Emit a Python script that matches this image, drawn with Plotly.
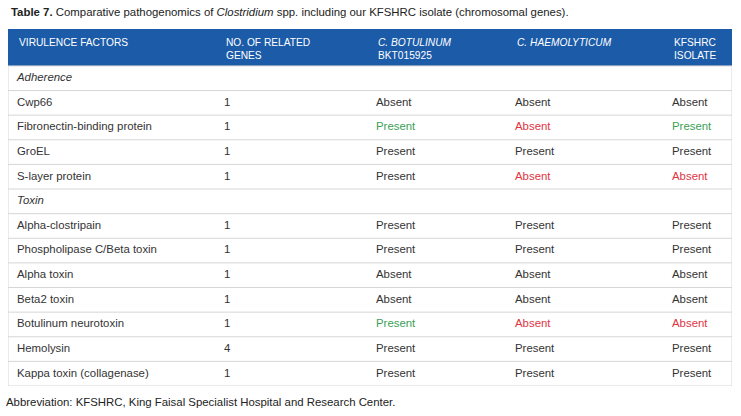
import plotly.graph_objects as go

# Table content, one list per column. Section rows ("Adherence", "Toxin") have
# empty cells in the other columns.
factors = [
    "Adherence", "Cwp66", "Fibronectin-binding protein", "GroEL", "S-layer protein",
    "Toxin", "Alpha-clostripain", "Phospholipase C/Beta toxin", "Alpha toxin",
    "Beta2 toxin", "Botulinum neurotoxin", "Hemolysin", "Kappa toxin (collagenase)",
]
sections = ["Adherence", "Toxin"]
related_genes = ["", "1", "1", "1", "1", "", "1", "1", "1", "1", "1", "4", "1"]
c_botulinum = ["", "Absent", "Present", "Present", "Present", "", "Present", "Present",
               "Absent", "Absent", "Present", "Present", "Present"]
c_haemolyticum = ["", "Absent", "Absent", "Present", "Absent", "", "Present", "Present",
                  "Absent", "Absent", "Absent", "Present", "Present"]
kfshrc = ["", "Absent", "Present", "Present", "Absent", "", "Present", "Present",
          "Absent", "Absent", "Absent", "Present", "Present"]
# highlight codes as printed: g = green, r = red, "" = plain
c_botulinum_hl = ["", "", "g", "", "", "", "", "", "", "", "g", "", ""]
c_haemolyticum_hl = ["", "", "r", "", "r", "", "", "", "", "", "r", "", ""]
kfshrc_hl = ["", "", "g", "", "r", "", "", "", "", "", "r", "", ""]

header_top = ["VIRULENCE FACTORS", "NO. OF RELATED", "<i>C. BOTULINUM</i>",
              "<i>C. HAEMOLYTICUM</i>", "KFSHRC"]
header_bottom = ["", "GENES", "BKT015925", "", "ISOLATE"]

title = ("<b>Table 7.</b> Comparative pathogenomics of <i>Clostridium</i> spp. "
         "including our KFSHRC isolate (chromosomal genes).")
footnote = "Abbreviation: KFSHRC, King Faisal Specialist Hospital and Research Center."

FONT = "Liberation Sans, Arial, Helvetica, sans-serif"
SIZE = 11.4
HEAD_SIZE = 10.2
TEXT = "#333333"
HL = {"": TEXT, "g": "#3a9f55", "r": "#df3444"}
BLUE = "#1b5ba8"
RULE = "#d6d6d6"
WIDTH = 724          # table width in x-axis units (px)
COL_X = [9, 216, 368, 507, 664]
HEADER_ROWS = 1.5    # header height in body-row units

n = len(factors)
row_y = [i + 0.5 for i in range(n)]

fig = go.Figure()

# header band, row rules, outer border
shapes = [dict(type="rect", x0=0, x1=WIDTH, y0=-HEADER_ROWS, y1=0,
               fillcolor=BLUE, line=dict(width=0), layer="below")]
for i in range(1, n):
    shapes.append(dict(type="line", x0=0, x1=WIDTH, y0=i, y1=i,
                       line=dict(color=RULE, width=1)))
shapes.append(dict(type="rect", x0=0, x1=WIDTH, y0=0, y1=n,
                   line=dict(color=RULE, width=1)))

# first column: plain names and italic section labels
plain = [(y, f) for y, f in zip(row_y, factors) if f not in sections]
sect = [(y, f) for y, f in zip(row_y, factors) if f in sections]
fig.add_trace(go.Scatter(
    x=[COL_X[0]] * len(plain), y=[p[0] for p in plain], text=[p[1] for p in plain],
    mode="text", textposition="middle right",
    textfont=dict(family=FONT, size=SIZE, color=TEXT)))
fig.add_trace(go.Scatter(
    x=[COL_X[0]] * len(sect), y=[s[0] for s in sect], text=[s[1] for s in sect],
    mode="text", textposition="middle right",
    textfont=dict(family=FONT, size=SIZE, color=TEXT, style="italic")))

columns = [
    (related_genes, [""] * n),
    (c_botulinum, c_botulinum_hl),
    (c_haemolyticum, c_haemolyticum_hl),
    (kfshrc, kfshrc_hl),
]
for x, (values, hl) in zip(COL_X[1:], columns):
    fig.add_trace(go.Scatter(
        x=[x] * n, y=row_y, text=values, mode="text", textposition="middle right",
        textfont=dict(family=FONT, size=SIZE, color=[HL[h] for h in hl])))

annotations = []
for x, top, bottom in zip(COL_X, header_top, header_bottom):
    annotations.append(dict(x=x, y=-0.94, text=top, xanchor="left", yanchor="middle",
                            showarrow=False,
                            font=dict(family=FONT, size=HEAD_SIZE, color="white")))
    if bottom:
        annotations.append(dict(x=x, y=-0.44, text=bottom, xanchor="left", yanchor="middle",
                                showarrow=False,
                                font=dict(family=FONT, size=HEAD_SIZE, color="white")))
# title and footnote sit outside the axis ranges, so place them in paper coords
annotations.append(dict(xref="paper", yref="paper", x=0.0014, y=1.0476, text=title,
                        xanchor="left", yanchor="middle", showarrow=False,
                        font=dict(family=FONT, size=SIZE, color="#222222")))
annotations.append(dict(xref="paper", yref="paper", x=-0.0055, y=-0.0448, text=footnote,
                        xanchor="left", yanchor="middle", showarrow=False,
                        font=dict(family=FONT, size=SIZE, color="#222222")))

fig.update_layout(
    width=741, height=416,
    margin=dict(l=8, r=9, t=29, b=30),
    paper_bgcolor="white", plot_bgcolor="white",
    showlegend=False, hovermode=False,
    shapes=shapes, annotations=annotations,
    xaxis=dict(range=[0, WIDTH], visible=False, fixedrange=True),
    yaxis=dict(range=[n, -HEADER_ROWS], visible=False, fixedrange=True),
)

# the browser's default 8px body margin would shift the whole figure
fig.write_html("out.html", config={"displayModeBar": False},
               post_script="document.body.style.margin = '0';")
